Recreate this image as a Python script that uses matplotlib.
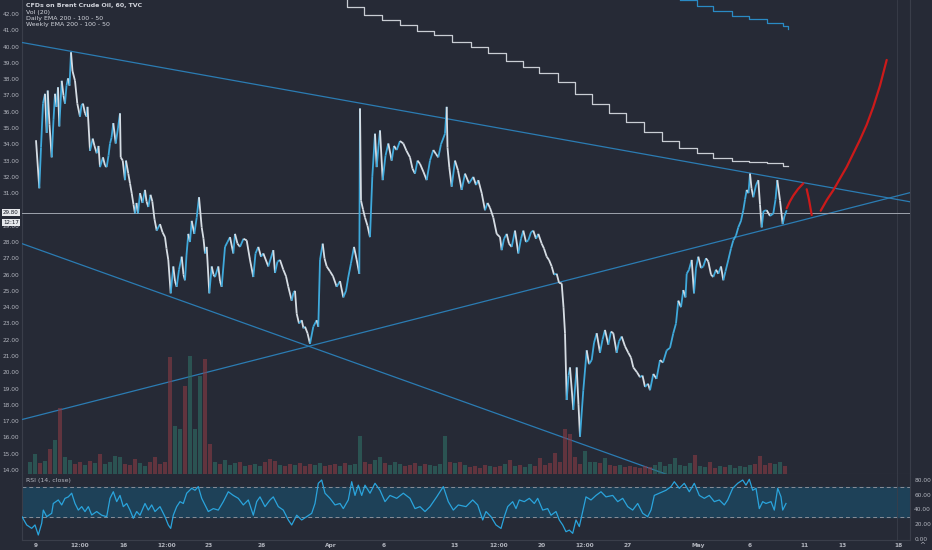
import numpy as np
import matplotlib
matplotlib.use("Agg")
import matplotlib.pyplot as plt
from matplotlib.collections import LineCollection

BG = "#262a36"
GRID = "#3a3e4a"
TXT = "#b2b5be"
UP = "#3fa9db"
DOWN = "#d6dde4"

# price path (hourly bars); x is bar slot
bar_x = [36.0, 39.3, 41.0, 43.0, 45.0, 46.7, 47.7, 49.5, 51.7, 53.5, 55.0, 56.5, 58.0, 59.3, 61.7, 63.5,
         65.0, 66.5, 68.0, 69.5, 71.0, 72.5, 75.0, 77.3, 80.0, 81.5, 83.0, 85.0, 86.7, 87.5, 90.0, 92.7,
         94.5, 96.7, 98.5, 100.0, 103.0, 105.0, 106.7, 108.5, 110.0, 111.5, 113.3, 115.7, 118.0, 120.0,
         120.7, 122.7, 125.0, 126.0, 128.3, 130.0, 131.7, 133.5, 135.0, 136.5, 138.0, 140.0, 142.5, 145.0,
         146.5, 148.3, 150.5, 152.3, 154.5, 156.7, 160.0, 162.5, 165.0, 166.5, 168.3, 170.7, 173.3, 175.0,
         176.7, 179.0, 181.7, 183.5, 185.0, 186.5, 188.3, 190.0, 191.7, 194.3, 196.7, 199.0, 201.7, 203.5,
         205.0, 206.7, 209.3, 211.7, 213.5, 215.0, 218.3, 220.0, 221.7, 225.0, 227.5, 230.0, 233.3, 235.0,
         237.5, 240.0, 243.5, 246.7, 250.0, 253.3, 255.5, 258.3, 261.0, 263.3, 268.3, 273.3, 275.0, 277.5,
         280.0, 283.3, 286.0, 288.3, 291.7, 293.5, 295.0, 296.7, 299.0, 301.7, 303.5, 305.0, 307.5, 310.0,
         313.3, 316.7, 318.3, 320.0, 322.7, 324.5, 326.7, 330.0, 333.0, 336.7, 340.0, 343.3, 346.0, 348.3,
         351.0, 354.0, 356.7, 359.3, 360.0, 361.0, 363.0, 365.0, 367.5, 370.0, 372.3, 375.0, 376.7, 378.5,
         380.0, 382.7, 385.5, 388.3, 391.7, 394.0, 396.7, 400.0, 403.3, 406.5, 410.0, 412.5, 415.0, 417.5,
         420.0, 423.5, 426.7, 430.0, 433.3, 436.0, 438.3, 441.0, 445.0, 446.7, 447.5, 449.3, 451.7, 455.0,
         458.0, 461.7, 465.0, 469.0, 473.3, 476.0, 478.3, 481.7, 485.0, 487.5, 490.0, 493.3, 496.7, 500.0,
         501.7, 504.0, 506.7, 509.0, 511.7, 515.0, 518.3, 521.0, 523.3, 526.0, 528.3, 531.0, 533.3, 536.0,
         538.3, 541.7, 544.0, 546.7, 549.0, 551.7, 554.0, 556.7, 559.0, 561.7, 563.5, 565.0, 566.7, 568.5,
         570.0, 573.3, 576.7, 578.5, 580.0, 583.3, 586.7, 589.0, 591.7, 594.0, 596.7, 600.0, 602.5, 605.0,
         608.3, 611.0, 613.3, 616.7, 619.0, 621.7, 625.0, 628.3, 631.0, 633.3, 637.0, 640.0, 642.5, 645.0,
         648.0, 650.0, 653.3, 656.5, 660.0, 663.0, 666.7, 670.0, 673.3, 676.0, 678.3, 681.0, 683.3, 685.5,
         686.7, 689.0, 691.7, 694.0, 696.0, 698.3, 701.0, 703.3, 706.0, 708.3, 711.0, 713.3, 716.0, 718.3,
         721.0, 723.3, 725.5, 728.3, 731.0, 733.3, 736.0, 738.3, 741.0, 743.3, 745.0, 746.7, 748.5, 750.0,
         751.5, 753.3, 756.0, 758.3, 760.0, 761.7, 763.5, 766.7, 770.0, 773.3, 775.5, 777.3, 780.0, 782.7,
         784.5, 786.7]
close = [34.25, 31.3, 33.8, 36.5, 37.1, 34.7, 37.3, 35.2, 33.2, 35.5, 37.1, 36.3, 37.5, 35.1, 37.9, 37.0,
         36.5, 37.6, 38.05, 37.6, 39.65, 38.5, 37.9, 36.5, 35.7, 36.4, 36.5, 35.9, 35.7, 36.3, 33.6, 34.35,
         33.9, 33.45, 33.9, 32.6, 33.2, 32.7, 32.6, 33.3, 34.05, 34.4, 35.3, 34.05, 35.0, 35.9,
         33.2, 33.0, 31.8, 33.0, 32.2, 31.6, 31.0, 30.3, 29.75, 30.4, 29.75, 31.0, 30.4, 31.2,
         30.5, 30.15, 30.9, 30.5, 29.4, 28.7, 29.1, 28.6, 28.3, 27.6, 26.9, 24.85, 26.5, 25.6,
         25.25, 26.3, 27.1, 26.0, 25.65, 27.2, 28.5, 28.0, 29.3, 28.5, 29.5, 30.75, 28.9, 28.2,
         27.3, 27.7, 24.85, 26.5, 26.0, 25.85, 26.5, 25.6, 25.25, 27.7, 28.0, 28.3, 27.3, 28.5,
         27.9, 27.7, 28.2, 28.1, 26.9, 25.85, 27.3, 27.7, 27.1, 27.3, 26.5, 27.5, 26.1, 26.8,
         26.9, 26.3, 25.9, 25.25, 24.4, 24.9, 25.0, 23.6, 23.0, 23.2, 22.7, 22.8, 22.4, 21.75,
         22.8, 23.2, 22.8, 26.9, 27.9, 27.0, 26.5, 26.2, 25.9, 25.25, 25.6, 24.6, 25.0, 25.85,
         26.7, 27.7, 26.9, 26.05, 36.2, 30.55, 30.0, 29.5, 29.0, 28.3, 32.0, 34.65, 32.6, 33.9,
         34.85, 31.8, 33.3, 34.05, 33.0, 33.9, 33.65, 34.2, 34.05, 33.6, 33.2, 32.5, 32.2, 33.0,
         32.8, 32.3, 31.8, 33.0, 33.65, 33.4, 33.2, 34.0, 34.65, 36.3, 33.8, 32.6, 31.4, 33.0,
         32.4, 31.2, 32.2, 31.6, 32.0, 31.5, 31.8, 31.0, 29.95, 30.4, 30.1, 29.5, 28.5, 28.3,
         27.5, 28.2, 28.5, 27.9, 27.7, 28.7, 27.3, 28.2, 28.7, 28.0, 28.1, 28.6, 28.7, 28.2,
         28.5, 27.9, 27.6, 27.1, 26.9, 26.5, 26.0, 26.05, 25.5, 25.45, 24.0, 22.4, 18.3, 19.8,
         20.3, 17.7, 20.3, 18.0, 16.05, 18.9, 21.35, 20.5, 20.75, 21.8, 22.4, 21.2, 22.0, 22.6,
         21.7, 22.5, 22.4, 21.2, 21.9, 22.2, 21.6, 21.2, 20.9, 20.3, 20.0, 19.7, 19.8, 19.1,
         19.3, 18.9, 19.9, 19.6, 20.75, 20.6, 21.35, 21.5, 22.4, 23.0, 24.4, 24.0, 25.05, 24.6,
         26.05, 26.3, 26.9, 24.85, 26.4, 27.1, 26.4, 26.5, 27.0, 26.8, 26.0, 25.85, 26.3, 26.05,
         26.5, 25.65, 26.2, 26.9, 27.6, 28.1, 28.4, 28.9, 29.3, 29.95, 30.6, 31.2, 31.0, 32.2,
         31.3, 30.75, 31.5, 31.8, 30.3, 28.9, 29.9, 29.95, 29.6, 29.75, 30.6, 31.8, 30.55, 29.1,
         29.6, 29.95]
last_price = 29.80

# volume, one bar every 5 slots starting at slot 30
vol_start, vol_step = 30, 5
volume = [12, 20, 11, 13, 25, 34, 66, 17, 14, 10, 12, 9, 13, 11, 20, 10, 12, 18, 17, 10,
          9, 15, 11, 8, 12, 17, 10, 12, 117, 48, 45, 88, 118, 45, 98, 115, 30, 12, 10, 14,
          9, 11, 12, 8, 9, 10, 8, 12, 15, 13, 9, 8, 10, 9, 11, 8, 10, 9, 11, 8,
          9, 10, 8, 11, 9, 10, 38, 12, 10, 14, 17, 11, 9, 12, 10, 8, 9, 11, 8, 10,
          9, 8, 10, 38, 12, 11, 12, 9, 7, 8, 6, 9, 8, 7, 8, 10, 14, 8, 9, 7,
          10, 8, 16, 9, 11, 21, 12, 45, 40, 17, 10, 23, 12, 12, 11, 16, 9, 8, 9, 7,
          8, 7, 6, 8, 7, 9, 12, 8, 10, 16, 9, 8, 11, 19, 8, 7, 12, 6, 8, 7,
          9, 6, 8, 7, 9, 10, 18, 9, 11, 10, 12, 8]

# RSI(14)
rsi_x = [22, 26.7, 31.7, 35, 38.3, 41.7, 43.3, 46.7, 51.7, 53.3, 58.3, 61.7, 65, 68.3, 71.7, 75, 78.3,
         81.7, 85, 88.3, 91.7, 96.7, 101.7, 106.7, 110, 113.3, 116.7, 120, 123.3, 126.7, 130, 133.3,
         136.7, 140, 145, 148.3, 151.7, 155, 160, 165, 168.3, 170.7, 173.3, 176.7, 180, 183.3, 186.7,
         191.7, 195, 198.3, 201.7, 205, 208.3, 213.3, 218.3, 223.3, 228.3, 233.3, 238.3, 243.3, 248.3,
         253.3, 256.7, 260, 265, 270, 273.3, 278.3, 283.3, 288.3, 291.7, 296.7, 301.7, 306.7, 311.7,
         315, 318.3, 321.7, 325, 330, 335, 340, 343.3, 348.3, 351.7, 355, 358.3, 361.7, 365, 370, 375,
         380, 385, 390, 396.7, 403.3, 410, 415, 420, 425, 430, 436.7, 443.3, 448.3, 453.3, 458.3, 466,
         472.7, 477.7, 482.7, 486, 491, 496, 501, 504.3, 507.7, 512.7, 516, 519.3, 524.3, 529.3, 534.3,
         537.7, 542.7, 547.7, 551, 556, 559.3, 562.7, 566, 569.3, 572.7, 576, 579.3, 582.7, 586, 591,
         596, 601, 606, 612.7, 617.7, 622.7, 627.7, 632.7, 637.7, 642.7, 647.7, 651, 654.3, 659.3, 666,
         671, 674.3, 679.3, 684.3, 689.3, 694.3, 699.3, 704.3, 709.3, 714.3, 719.3, 724.3, 727.7, 732.7,
         737.7, 742.7, 746, 749.3, 752.7, 756, 759.3, 762.7, 766, 771, 774.3, 777.7, 781, 782.7, 786]
rsi = [30, 18.7, 14.1, 18.7, 5, 21, 39, 30, 34.6, 48, 52.8, 46, 55, 57, 62, 48, 39,
       43.7, 36.9, 43.7, 32.3, 37, 32, 30, 55, 64, 50.5, 59, 43.7, 48, 39, 27.8,
       37, 32, 48, 39, 46, 37, 43.7, 30, 18.7, 14, 32, 43.7, 50.5, 48, 62,
       68.7, 66, 71, 55, 46, 37, 41, 39, 50.5, 64, 59, 55, 46, 52.8,
       32, 50.5, 57, 43.7, 52.8, 57, 43.7, 39, 25.5, 18.7, 32, 25.5, 30, 34.6,
       48, 75.5, 80, 62, 55, 46, 48, 41, 52.8, 77.7, 59, 73, 59, 73, 62, 75.5,
       66, 50.5, 59, 55, 62, 55, 41, 43.7, 37, 43.7, 57, 71, 50.5, 39, 46, 43.7,
       52.8, 46, 25.5, 37, 30, 18.7, 14, 30, 43.7, 50.5, 41, 52.8, 50.5, 55, 48,
       55, 39, 41, 32, 37, 25.5, 18.7, 9.5, 11.7, 7.3, 25.5, 16.5, 37, 57, 52.8,
       59, 64, 57, 59, 50.5, 55, 43.7, 39, 48, 34.6, 30, 39, 59, 62, 66,
       71, 77.7, 68.7, 75.5, 64, 75.5, 59, 55, 59, 50.5, 52.8, 46, 52.8, 68.7,
       75.5, 80, 73, 81, 66, 68.7, 41, 50.5, 48, 50.5, 39, 68.7, 57, 39, 48]

# Daily / weekly EMA step lines
ema_d_x = [330, 347, 364, 381.7, 400, 417.3, 434.3, 452.3, 471, 487.7, 505.7, 522.7, 539.3, 557.7,
           575, 592.3, 609.3, 626, 644.3, 661.7, 679, 696.7, 713.3, 731.7, 749.3, 767, 783, 788]
ema_d = [43.3, 42.43, 41.94, 41.63, 41.32, 40.96, 40.71, 40.28, 39.97, 39.61, 39.11, 38.75, 38.38, 37.82,
         37.09, 36.47, 35.92, 35.37, 34.75, 34.20, 33.79, 33.45, 33.16, 33.00, 32.94, 32.85, 32.67, 32.67]
ema_w_x = [680, 696.7, 713.3, 731.7, 749.3, 766.7, 783.3, 788]
ema_w = [42.84, 42.49, 42.18, 41.88, 41.69, 41.45, 41.26, 41.08]

# trend lines: (x0, p0, x1, p1)
trend_lines = [(22, 40.25, 910, 30.47),
               (22, 27.9, 700, 13.0),
               (22, 17.1, 910, 31.03)]

# hand-drawn projection
red_paths = [
    ([786.7, 790, 793.3, 798, 803.3], [30.07, 30.5, 30.85, 31.25, 31.6]),
    ([806.7, 809, 811.7], [31.24, 30.6, 29.66]),
    ([820.7, 827, 833.3, 840, 846.7, 853, 860, 866.7, 873.3, 880, 886.7],
     [29.92, 30.6, 31.18, 31.9, 32.61, 33.4, 34.28, 35.2, 36.3, 37.6, 39.18]),
]

tick_pos = [36, 80, 123, 167, 209, 262, 331, 384, 454, 499, 542, 585, 628, 698, 750, 804, 842, 898]
tick_lab = ["9", "12:00", "16", "12:00", "23", "26", "Apr", "6", "13", "12:00", "20", "12:00",
            "27", "May", "6", "11", "13", "18"]

W, H = 932, 550
fig = plt.figure(figsize=(W / 100, H / 100), dpi=100, facecolor=BG)
ax = fig.add_axes([22 / W, 76 / H, 888 / W, 474 / H], facecolor=BG)
rax = fig.add_axes([22 / W, 10 / H, 888 / W, 66 / H], facecolor=BG, sharex=ax)
ax.set_xlim(22, 910)
ax.set_ylim(13.755, 42.86)

# volume underlay
vax = ax.twinx()
vax.set_ylim(0, 474)
vax.axis("off")
vol_x = np.arange(len(volume)) * vol_step + vol_start
px = np.interp(vol_x, bar_x, close)
prev = np.interp(vol_x - vol_step, bar_x, close)
vcol = ["#2f6f66" if a >= b else "#8a3b44" for a, b in zip(px, prev)]
vax.bar(vol_x, volume, width=3.2, color=vcol, alpha=0.6, linewidth=0)

# candles as up/down coloured segments
pts = np.column_stack([bar_x, close])
segs = np.stack([pts[:-1], pts[1:]], axis=1)
cols = [UP if c1 >= c0 else DOWN for c0, c1 in zip(close[:-1], close[1:])]
ax.add_collection(LineCollection(segs, colors=cols, linewidths=1.3, zorder=4))

for x0, p0, x1, p1 in trend_lines:
    ax.plot([x0, x1], [p0, p1], color="#2b7cb3", lw=0.9, zorder=3)
ax.axhline(last_price, color="#9ea3ad", lw=0.7, zorder=3)
ax.plot(ema_d_x, ema_d, color="#c9cdd4", lw=0.9, drawstyle="steps-post", zorder=3)
ax.plot(ema_w_x, ema_w, color="#2a8ac4", lw=0.9, drawstyle="steps-post", zorder=3)
for xs, ys in red_paths:
    ax.plot(xs, ys, color="#cc1a1a", lw=1.6, solid_capstyle="round", zorder=5)
ax.axvline(897, color=GRID, lw=0.6)

# price scale; the 30.00 label sits under the last-price tag
price_ticks = [v for v in range(14, 43) if v != 30]
ax.set_yticks(price_ticks)
ax.set_yticklabels([f"{v:.2f}" for v in price_ticks])
ax.tick_params(axis="y", length=0, pad=2, labelsize=4.2, labelcolor=TXT)
ax.tick_params(axis="x", length=0, labelbottom=False)
for s in ax.spines.values():
    s.set_visible(False)
for k in ["left", "right", "bottom"]:
    ax.spines[k].set_visible(True)
    ax.spines[k].set_color(GRID)
    ax.spines[k].set_linewidth(0.8)

# RSI panel
rax.set_ylim(-1.8, 88.2)
rax.axhspan(30, 70, color="#1e4158", zorder=1)
rax.axhline(70, color="#8a8e99", lw=0.7, ls=(0, (4, 3)), zorder=2)
rax.axhline(30, color="#8a8e99", lw=0.7, ls=(0, (4, 3)), zorder=2)
rax.plot(rsi_x, rsi, color="#2aa4dc", lw=0.9, zorder=3)
rax.axvline(897, color=GRID, lw=0.6)
rax.yaxis.tick_right()
rax.set_yticks([0, 20, 40, 60, 80])
rax.set_yticklabels(["0.00", "20.00", "40.00", "60.00", "80.00"])
rax.tick_params(axis="y", length=0, pad=3, labelsize=4.2, labelcolor=TXT)
rax.set_xticks(tick_pos)
rax.set_xticklabels(tick_lab)
rax.tick_params(axis="x", length=0, pad=2, labelsize=4.2, labelcolor=TXT)
for lab in rax.get_xticklabels():
    lab.set_fontweight("bold")
for s in rax.spines.values():
    s.set_visible(False)
for k in ["left", "right", "bottom"]:
    rax.spines[k].set_visible(True)
    rax.spines[k].set_color(GRID)
    rax.spines[k].set_linewidth(0.8)
rax.text(0.005, 0.9, "RSI (14, close)", transform=rax.transAxes, color=TXT, fontsize=4.5, va="center")

# header legend
legend_lines = ["CFDs on Brent Crude Oil, 60, TVC", "Vol (20)", "Daily EMA 200 - 100 - 50",
                "Weekly EMA 200 - 100 - 50"]
for i, t in enumerate(legend_lines):
    fig.text(26 / W, 1 - (6 + 6.3 * i) / H, t, color="#d1d4dc", fontsize=4.5, va="center",
             fontweight="bold" if i == 0 else "normal")

# last price tag
y_tag = ax.transData.transform((0, last_price))[1] / fig.dpi / (H / 100)
fig.text(11 / W, y_tag, f"{last_price:.2f}", color="#131722", fontsize=4, ha="center", va="center",
         bbox=dict(boxstyle="square,pad=0.2", fc="#e6e8ec", ec="none"))
fig.text(11 / W, y_tag - 10 / H, "12:17", color="#131722", fontsize=4, ha="center", va="center",
         bbox=dict(boxstyle="square,pad=0.2", fc="#e6e8ec", ec="none"))
fig.text(922 / W, 5 / H, "^", color=TXT, fontsize=5, ha="center", va="center")

fig.savefig("out.png", dpi=100, facecolor=BG)
